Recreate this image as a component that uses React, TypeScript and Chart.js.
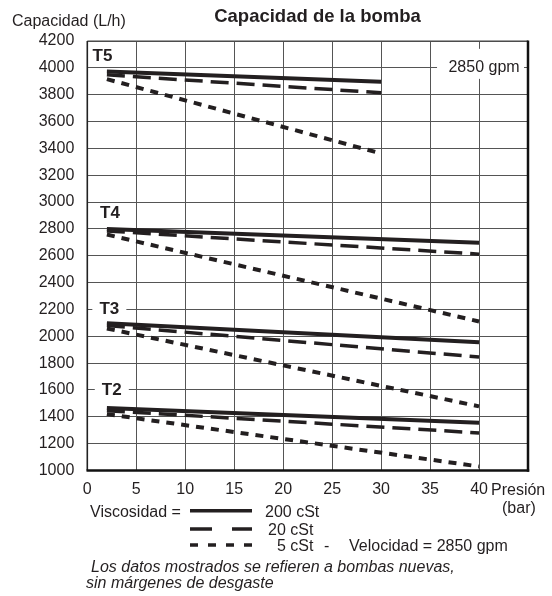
import React, { useEffect, useRef } from 'react';
import { Chart, registerables } from 'chart.js';

Chart.register(...registerables);

// ---- data ----
const PRESSURE_T5 = [2, 30];
const PRESSURE = [2, 40];

const T5_200 = [3972, 3896];
const T5_20 = [3948, 3814];
const T5_5 = [3916, 3362];

const T4_200 = [2800, 2697];
const T4_20 = [2785, 2612];
const T4_5 = [2758, 2110];

const T3_200 = [2097, 1955];
const T3_20 = [2080, 1845];
const T3_5 = [2058, 1478];

const T2_200 = [1466, 1355];
const T2_20 = [1446, 1280];
const T2_5 = [1420, 1030];

const X_TICKS = [0, 5, 10, 15, 20, 25, 30, 35, 40];
const X_MAX = 45;
const Y_MIN = 1000;
const Y_MAX = 4200;
const Y_STEP = 200;

const MODEL_LABELS = ['T5', 'T4', 'T3', 'T2'];
const MODEL_LABEL_X = [1.55, 2.32, 2.25, 2.5];
const MODEL_LABEL_Y = [4088, 2916, 2200, 1600];
const MODEL_LABEL_BOX = [false, false, true, true];

const TITLE = 'Capacidad de la bomba';
const Y_TITLE = 'Capacidad (L/h)';
const X_TITLE_1 = 'Presión';
const X_TITLE_2 = '(bar)';
const SPEED_LABEL = '2850 gpm';
const LEGEND_HEAD = 'Viscosidad =';
const LEGEND_NAMES = ['200 cSt', '20 cSt', '5 cSt'];
const LEGEND_TAIL = 'Velocidad = 2850 gpm';
const NOTE_1 = 'Los datos mostrados se refieren a bombas nuevas,';
const NOTE_2 = 'sin márgenes de desgaste';

const FONT = '"Liberation Sans", Arial, Helvetica, sans-serif';
const INK = '#231f20';
const GRID = '#555555';

const SOLID = { borderWidth: 4, borderDash: [] as number[] };
const DASH = { borderWidth: 3.5, borderDash: [18, 8] };
const DOT = { borderWidth: 4, borderDash: [8, 7] };

function series(label: string, xs: number[], ys: number[], style: { borderWidth: number; borderDash: number[] }) {
  return {
    label,
    data: xs.map((x, i) => ({ x, y: ys[i] })),
    borderColor: INK,
    backgroundColor: INK,
    borderWidth: style.borderWidth,
    borderDash: style.borderDash,
    borderCapStyle: 'butt' as const,
    pointRadius: 0,
    fill: false,
    tension: 0,
  };
}

const decor = {
  id: 'decor',
  beforeDatasetsDraw(chart: any) {
    const { ctx, chartArea: a } = chart;
    ctx.save();
    const ln = (x1: number, y1: number, x2: number, y2: number, w: number, c: string) => {
      ctx.beginPath();
      ctx.lineWidth = w;
      ctx.strokeStyle = c;
      ctx.moveTo(x1, y1);
      ctx.lineTo(x2, y2);
      ctx.stroke();
    };
    ln(a.left, a.top, a.right, a.top, 1.2, '#444');
    ln(a.left, a.top, a.left, a.bottom, 1.6, '#222');
    ln(a.right, a.top - 0.6, a.right, a.bottom + 1.2, 2.5, '#111');
    ln(a.left - 0.8, a.bottom, a.right + 1.2, a.bottom, 2.5, '#111');
    ctx.restore();
  },
  afterDatasetsDraw(chart: any) {
    const { ctx, scales } = chart;
    const xs = scales.x;
    const ys = scales.y;
    ctx.save();
    ctx.font = `bold 17px ${FONT}`;
    ctx.textAlign = 'center';
    ctx.textBaseline = 'alphabetic';
    MODEL_LABELS.forEach((t, i) => {
      const px = xs.getPixelForValue(MODEL_LABEL_X[i]);
      const py = ys.getPixelForValue(MODEL_LABEL_Y[i]);
      if (MODEL_LABEL_BOX[i]) {
        ctx.fillStyle = '#fff';
        ctx.fillRect(px - 17, py - 8, 34, 16);
      }
      ctx.fillStyle = INK;
      ctx.fillText(t, px, py + 5);
    });
    // speed label box on the 4000 line
    const gx = xs.getPixelForValue(40);
    const gy = ys.getPixelForValue(4000);
    ctx.fillStyle = '#fff';
    ctx.fillRect(gx - 42, gy - 19, 87, 30);
    ctx.font = `16px ${FONT}`;
    ctx.fillStyle = INK;
    ctx.textAlign = 'center';
    ctx.fillText(SPEED_LABEL, gx + 5, gy + 4);
    ctx.restore();
  },
  afterDraw(chart: any) {
    const { ctx, chartArea: a } = chart;
    ctx.save();
    ctx.fillStyle = INK;
    ctx.textBaseline = 'alphabetic';
    // title
    ctx.font = `bold 18.5px ${FONT}`;
    ctx.textAlign = 'center';
    ctx.fillText(TITLE, 317.5, 22);
    // y title
    ctx.font = `16px ${FONT}`;
    ctx.textAlign = 'left';
    ctx.fillText(Y_TITLE, 12, 26);
    // x title
    ctx.fillText(X_TITLE_1, a.right - 37, a.bottom + 24);
    ctx.fillText(X_TITLE_2, a.right - 26, a.bottom + 42);
    // legend
    const lx1 = 190;
    const lx2 = 252;
    const rows = [510.7, 529, 545];
    ctx.fillText(LEGEND_HEAD, 90, rows[0] + 6);
    [0, 1, 2].forEach((i) => {
      ctx.beginPath();
      ctx.strokeStyle = INK;
      ctx.lineWidth = 3.5;
      ctx.lineCap = 'butt';
      if (i === 0) ctx.setLineDash([]);
      if (i === 1) ctx.setLineDash([22, 20]);
      if (i === 2) ctx.setLineDash([8, 10]);
      ctx.moveTo(lx1, rows[i]);
      ctx.lineTo(lx2, rows[i]);
      ctx.stroke();
    });
    ctx.setLineDash([]);
    const nameX = [265, 268, 277];
    LEGEND_NAMES.forEach((n, i) => ctx.fillText(n, nameX[i], rows[i] + 6));
    ctx.fillText('-', 324, rows[2] + 6);
    ctx.fillText(LEGEND_TAIL, 349, rows[2] + 6);
    // note
    ctx.font = `italic 16px ${FONT}`;
    ctx.fillText(NOTE_1, 91, 572);
    ctx.fillText(NOTE_2, 86, 588);
    ctx.restore();
  },
};

export default function App() {
  const ref = useRef<HTMLCanvasElement | null>(null);

  useEffect(() => {
    if (!ref.current) return;
    const chart = new Chart(ref.current, {
      type: 'line',
      data: {
        datasets: [
          series('T5 200 cSt', PRESSURE_T5, T5_200, SOLID),
          series('T5 20 cSt', PRESSURE_T5, T5_20, DASH),
          series('T5 5 cSt', PRESSURE_T5, T5_5, DOT),
          series('T4 200 cSt', PRESSURE, T4_200, SOLID),
          series('T4 20 cSt', PRESSURE, T4_20, DASH),
          series('T4 5 cSt', PRESSURE, T4_5, DOT),
          series('T3 200 cSt', PRESSURE, T3_200, SOLID),
          series('T3 20 cSt', PRESSURE, T3_20, DASH),
          series('T3 5 cSt', PRESSURE, T3_5, DOT),
          series('T2 200 cSt', PRESSURE, T2_200, SOLID),
          series('T2 20 cSt', PRESSURE, T2_20, DASH),
          series('T2 5 cSt', PRESSURE, T2_5, DOT),
        ],
      },
      options: {
        responsive: false,
        animation: false,
        layout: { padding: { left: 0, top: 41, right: 24, bottom: 95.5 } },
        plugins: {
          legend: { display: false },
          tooltip: { enabled: false },
          title: { display: false },
        },
        scales: {
          x: {
            type: 'linear',
            min: 0,
            max: X_MAX,
            afterBuildTicks: (scale: any) => {
              scale.ticks = [...X_TICKS, X_MAX].map((v) => ({ value: v }));
            },
            afterFit: (scale: any) => {
              scale.height = 30;
            },
            ticks: {
              callback: (v: any) => (X_TICKS.includes(Number(v)) ? String(v) : ''),
              font: { family: FONT, size: 16 },
              color: INK,
              padding: 9,
              maxRotation: 0,
              autoSkip: false,
            },
            grid: { color: GRID, lineWidth: 1, drawTicks: false },
            border: { display: false },
          },
          y: {
            type: 'linear',
            min: Y_MIN,
            max: Y_MAX,
            afterFit: (scale: any) => {
              scale.width = 87.3;
            },
            ticks: {
              stepSize: Y_STEP,
              callback: (v: any) => String(v),
              font: { family: FONT, size: 16 },
              color: INK,
              padding: 13,
              autoSkip: false,
            },
            grid: { color: GRID, lineWidth: 1, drawTicks: false },
            border: { display: false },
          },
        },
      },
      plugins: [decor],
    });
    return () => chart.destroy();
  }, []);

  return (
    <div style={{ position: 'fixed', left: 0, top: 0, width: 552, height: 596, background: '#fff' }}>
      <canvas ref={ref} width={552} height={596} style={{ display: 'block' }} />
    </div>
  );
}
